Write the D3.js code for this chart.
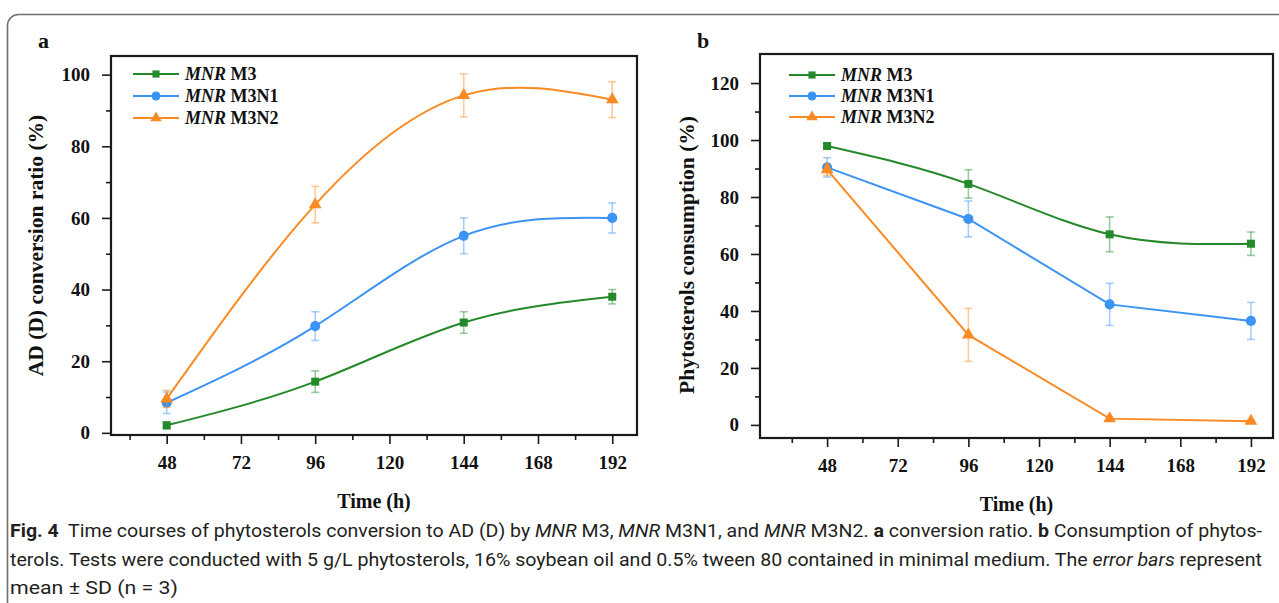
<!DOCTYPE html>
<html>
<head>
<meta charset="utf-8">
<script src="https://cdn.jsdelivr.net/npm/d3@7"></script>
<style>
  body { margin: 0; background: #fff; }
  svg { display: block; }
  .serif { font-family: "Liberation Serif", "Times New Roman", serif; font-weight: bold; fill: #111; }
  .caption { font-family: Roboto, "Noto Sans", sans-serif; font-size: 18px; fill: #231f20; white-space: pre; }
</style>
</head>
<body>
<div id="chart"></div>
<script>
// sampling times (h)
const hours = [48, 96, 144, 192]
const xTickValues = [48, 72, 96, 120, 144, 168, 192]
const xMinorValues = [36, 60, 84, 108, 132, 156, 180]

const strainNames = ["M3", "M3N1", "M3N2"]

// panel a - AD (D) conversion ratio (%)
const convM3 = [2.1, 14.3, 30.8, 38.0]
const convM3Err = [1.0, 3.0, 3.0, 2.0]
const convM3N1 = [8.4, 29.8, 55.0, 60.0]
const convM3N1Err = [3.0, 4.0, 5.0, 4.2]
const convM3N2 = [9.5, 63.7, 94.2, 93.0]
const convM3N2Err = [2.4, 5.1, 6.0, 5.0]
const yTicksA = [0, 20, 40, 60, 80, 100]
const yMinorA = [10, 30, 50, 70, 90]

// panel b - phytosterols consumption (%)
const consM3 = [97.9, 84.6, 66.9, 63.6]
const consM3Err = [0.8, 5.0, 6.1, 4.1]
const consM3N1 = [90.4, 72.3, 42.3, 36.5]
const consM3N1Err = [3.4, 6.3, 7.4, 6.5]
const consM3N2 = [89.6, 31.6, 2.2, 1.3]
const consM3N2Err = [2.0, 9.3, 0.6, 0.5]
const yTicksB = [0, 20, 40, 60, 80, 100, 120]
const yMinorB = [10, 30, 50, 70, 90, 110]

const colors = ["#24892a", "#3b93f3", "#fb8a23"]
const symbols = [d3.symbolSquare, d3.symbolCircle, d3.symbolTriangle]
const symbolSizes = [64, 80, 70]

var width = 1279, height = 603

let svg = d3.select("#chart")
    .append("svg")
    .attr("width", width)
    .attr("height", height)

// rounded frame around the figure (runs off the right and bottom edge)
svg.append("rect")
    .attr("x", 7.5)
    .attr("y", 14.5)
    .attr("width", 1320)
    .attr("height", 700)
    .attr("rx", 11)
    .attr("fill", "none")
    .attr("stroke", "#6f6f6f")
    .attr("stroke-width", 1.6)

function buildSeries(values, errors) {
    return hours.map(function (h, i) {
        return { h: h, v: values[i], e: errors[i] }
    })
}

function styleAxis(g, fontSize) {
    g.select(".domain").remove()
    g.selectAll("line").attr("stroke", "#1a1a1a").attr("stroke-width", 1.6)
    g.selectAll("text")
        .attr("class", "serif")
        .style("font-size", fontSize + "px")
}

function drawPanel(p) {
    let g = svg.append("g")

    let xScale = d3.scaleLinear().domain(p.xDomain).range([p.left, p.right])
    let yScale = d3.scaleLinear().domain(p.yDomain).range([p.bottom, p.top])

    // minor ticks
    g.append("g")
        .attr("transform", "translate(0," + p.bottom + ")")
        .call(d3.axisBottom(xScale).tickValues(xMinorValues).tickSize(5).tickFormat(""))
        .call(styleAxis, 19)
    g.append("g")
        .attr("transform", "translate(" + p.left + ",0)")
        .call(d3.axisLeft(yScale).tickValues(p.yMinor).tickSize(5).tickFormat(""))
        .call(styleAxis, 19)

    // major ticks and labels
    g.append("g")
        .attr("transform", "translate(0," + p.bottom + ")")
        .call(d3.axisBottom(xScale).tickValues(xTickValues).tickSize(9).tickPadding(12))
        .call(styleAxis, 19)
    g.append("g")
        .attr("transform", "translate(" + p.left + ",0)")
        .call(d3.axisLeft(yScale).tickValues(p.yTicks).tickSize(9).tickPadding(12))
        .call(styleAxis, 19)

    // frame
    g.append("rect")
        .attr("x", p.left)
        .attr("y", p.top)
        .attr("width", p.right - p.left)
        .attr("height", p.bottom - p.top)
        .attr("fill", "none")
        .attr("stroke", "#1a1a1a")
        .attr("stroke-width", 2.2)

    // axis titles
    g.append("text")
        .attr("class", "serif")
        .attr("x", (p.left + p.right) / 2)
        .attr("y", p.bottom + 73)
        .attr("text-anchor", "middle")
        .style("font-size", "20px")
        .text("Time (h)")

    g.append("text")
        .attr("class", "serif")
        .attr("transform", "translate(" + p.yTitleX + "," + ((p.top + p.bottom) / 2 + p.yTitleShift) + ") rotate(-90)")
        .attr("text-anchor", "middle")
        .attr("dy", "0.35em")
        .style("font-size", "21.5px")
        .text(p.yTitle)

    // panel letter
    g.append("text")
        .attr("class", "serif")
        .attr("x", p.letterX)
        .attr("y", 48)
        .style("font-size", "22px")
        .text(p.letter)

    p.series.forEach(function (s, i) {
        let data = buildSeries(s.values, s.errors)

        let line = d3.line()
            .x(function (d) { return xScale(d.h) })
            .y(function (d) { return yScale(d.v) })
            .curve(p.curves[i])

        g.append("path")
            .datum(data)
            .attr("d", line)
            .attr("fill", "none")
            .attr("stroke", colors[i])
            .attr("stroke-width", 2)

        // error bars
        let bars = g.append("g")
            .attr("stroke", colors[i])
            .attr("stroke-opacity", 0.45)
            .attr("stroke-width", 1.6)
        bars.selectAll("line.v")
            .data(data)
            .enter()
            .append("line")
            .attr("class", "v")
            .attr("x1", function (d) { return xScale(d.h) })
            .attr("x2", function (d) { return xScale(d.h) })
            .attr("y1", function (d) { return yScale(d.v - d.e) })
            .attr("y2", function (d) { return yScale(d.v + d.e) })
        bars.selectAll("line.top")
            .data(data)
            .enter()
            .append("line")
            .attr("class", "top")
            .attr("x1", function (d) { return xScale(d.h) - 4 })
            .attr("x2", function (d) { return xScale(d.h) + 4 })
            .attr("y1", function (d) { return yScale(d.v + d.e) })
            .attr("y2", function (d) { return yScale(d.v + d.e) })
        bars.selectAll("line.bot")
            .data(data)
            .enter()
            .append("line")
            .attr("class", "bot")
            .attr("x1", function (d) { return xScale(d.h) - 4 })
            .attr("x2", function (d) { return xScale(d.h) + 4 })
            .attr("y1", function (d) { return yScale(d.v - d.e) })
            .attr("y2", function (d) { return yScale(d.v - d.e) })

        g.selectAll(null)
            .data(data)
            .enter()
            .append("path")
            .attr("d", d3.symbol().type(symbols[i]).size(symbolSizes[i]))
            .attr("transform", function (d) { return "translate(" + xScale(d.h) + "," + yScale(d.v) + ")" })
            .attr("fill", colors[i])

        // legend row
        let ly = p.legendY[i]
        g.append("line")
            .attr("x1", p.legendX)
            .attr("x2", p.legendX + 46)
            .attr("y1", ly)
            .attr("y2", ly)
            .attr("stroke", colors[i])
            .attr("stroke-width", 2)
        g.append("path")
            .attr("d", d3.symbol().type(symbols[i]).size(symbolSizes[i] * 0.8))
            .attr("transform", "translate(" + (p.legendX + 23) + "," + ly + ")")
            .attr("fill", colors[i])
        let lt = g.append("text")
            .attr("class", "serif")
            .attr("x", p.legendX + 52)
            .attr("y", ly)
            .attr("dy", "0.35em")
            .style("font-size", "18px")
        lt.append("tspan").style("font-style", "italic").text("MNR")
        lt.append("tspan").text(" " + strainNames[i])
    })
}

drawPanel({
    letter: "a", letterX: 38,
    left: 111, right: 637, top: 56, bottom: 435,
    xDomain: [30, 200], yDomain: [-0.6, 105.2],
    yTicks: yTicksA, yMinor: yMinorA,
    yTitle: "AD (D) conversion ratio (%)", yTitleX: 35, yTitleShift: 0,
    legendX: 133, legendY: [74, 96, 118],
    curves: [d3.curveNatural, d3.curveNatural, d3.curveNatural],
    series: [
        { values: convM3, errors: convM3Err },
        { values: convM3N1, errors: convM3N1Err },
        { values: convM3N2, errors: convM3N2Err }
    ]
})

drawPanel({
    letter: "b", letterX: 697,
    left: 760, right: 1273, top: 54, bottom: 438,
    xDomain: [25.2, 199.5], yDomain: [-4.6, 130.2],
    yTicks: yTicksB, yMinor: yMinorB,
    yTitle: "Phytosterols consumption (%)", yTitleX: 686, yTitleShift: 9,
    legendX: 789, legendY: [75, 96, 117],
    curves: [d3.curveNatural, d3.curveLinear, d3.curveLinear],
    series: [
        { values: consM3, errors: consM3Err },
        { values: consM3N1, errors: consM3N1Err },
        { values: consM3N2, errors: consM3N2Err }
    ]
})

// caption, one array of [text, style] pieces per line
const captionLines = [
    [["Fig. 4", "b"], ["  Time courses of phytosterols conversion to AD (D) by ", ""], ["MNR", "i"], [" M3, ", ""],
     ["MNR", "i"], [" M3N1, and ", ""], ["MNR", "i"], [" M3N2. ", ""], ["a", "b"], [" conversion ratio. ", ""],
     ["b", "b"], [" Consumption of phytos-", ""]],
    [["terols. Tests were conducted with 5 g/L phytosterols, 16% soybean oil and 0.5% tween 80 contained in minimal medium. The ", ""],
     ["error bars", "i"], [" represent", ""]],
    [["mean ± SD (n = 3)", ""]]
]
const captionY = [537, 566, 594]
const captionWidth = [1252, 1252, 168]

captionLines.forEach(function (parts, i) {
    let t = svg.append("text")
        .attr("class", "caption")
        .attr("x", 10)
        .attr("y", captionY[i])
        .attr("textLength", captionWidth[i])
        .attr("lengthAdjust", "spacingAndGlyphs")
    parts.forEach(function (part) {
        let ts = t.append("tspan").text(part[0])
        if (part[1] == "b") ts.style("font-weight", "bold")
        if (part[1] == "i") ts.style("font-style", "italic")
    })
})
</script>
</body>
</html>
